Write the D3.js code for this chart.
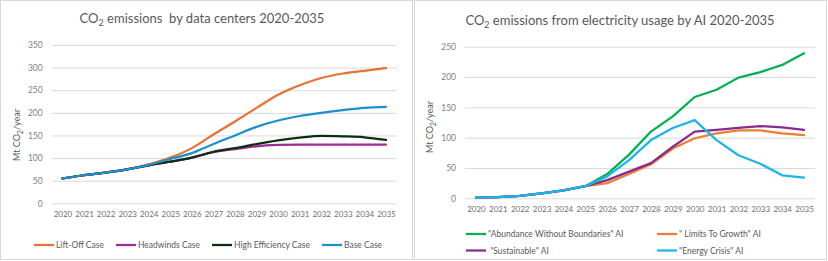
<!DOCTYPE html>
<html>
<head>
<meta charset="utf-8">
<script src="https://cdn.jsdelivr.net/npm/d3@7"></script>
<style>
  body { margin: 0; background: #fff; }
  text { font-family: Lato, "Open Sans", sans-serif; }
</style>
</head>
<body>
<svg id="chart" width="828" height="261"></svg>
<script>
// categories
const years = ["2020","2021","2022","2023","2024","2025","2026","2027","2028","2029","2030","2031","2032","2033","2034","2035"];

// left chart: data centers (Mt CO2/year)
const liftOff        = [55, 62, 68, 75, 86, 101, 122, 152, 181, 211, 240, 261, 277, 287, 293, 299];
const headwinds      = [55, 62, 68, 75, 84,  92, 101, 113, 120, 126, 129, 130, 130, 130, 130, 130];
const highEfficiency = [55, 62, 68, 75, 84,  92, 101, 114, 122, 131, 139, 145, 149, 148, 146, 140];
const baseCase       = [55, 62, 68, 75, 85,  98, 111, 131, 150, 169, 183, 193, 200, 206, 211, 213];
const leftTicks = [0, 50, 100, 150, 200, 250, 300, 350];

// right chart: AI electricity usage (Mt CO2/year)
const abundance    = [1, 2, 4, 8, 13, 20, 40, 72, 110, 135, 167, 179, 199, 208, 220, 239];
const limits       = [1, 2, 4, 8, 13, 20, 25, 40,  56,  82,  99, 107, 112, 112, 107, 104];
const sustainable  = [1, 2, 4, 8, 13, 20, 30, 44,  58,  85, 110, 113, 116, 119, 117, 113];
const energyCrisis = [1, 2, 4, 8, 13, 20, 36, 63,  96, 116, 129,  96,  71,  57,  38,  34];
const rightTicks = [0, 50, 100, 150, 200, 250];

const svg = d3.select("#chart");
svg.append("rect").attr("width", 828).attr("height", 261).attr("fill", "#fff");

// panel frames
svg.append("rect").attr("x", 0.5).attr("y", 0.5).attr("width", 412).attr("height", 259)
  .attr("fill", "none").attr("stroke", "#d9d9d9");
svg.append("rect").attr("x", 414.5).attr("y", 0.5).attr("width", 412).attr("height", 259)
  .attr("fill", "none").attr("stroke", "#d9d9d9");

function co2Text(sel, before, after, subSize) {
  sel.append("tspan").text(before);
  sel.append("tspan").attr("dy", 3).style("font-size", subSize + "px").text("2");
  sel.append("tspan").attr("dy", -3).text(after);
}

function drawPanel(p) {
  const g = svg.append("g");

  const x = d3.scalePoint().domain(years).range([p.left, p.right]).padding(0.5);
  const y = d3.scaleLinear().domain([0, p.yMax]).range([p.bottom, p.top]);

  // gridlines + y labels
  const yAxis = g.append("g")
    .attr("transform", `translate(${p.left},0)`)
    .call(d3.axisLeft(y).tickValues(p.ticks).tickSize(-(p.right - p.left)).tickPadding(9));
  yAxis.select(".domain").remove();
  yAxis.selectAll(".tick line").attr("stroke", "#d9d9d9").attr("stroke-width", 1);
  yAxis.selectAll(".tick text").attr("fill", "#7f7f7f").style("font-size", "8.5px");

  // x labels
  const xAxis = g.append("g")
    .attr("transform", `translate(0,${p.bottom})`)
    .call(d3.axisBottom(x).tickSize(0).tickPadding(8.5));
  xAxis.select(".domain").remove();
  xAxis.selectAll(".tick text").attr("fill", "#6f6f6f").style("font-size", "8px");

  // title
  const t = g.append("text")
    .attr("x", p.titleX).attr("y", p.titleY)
    .attr("text-anchor", "middle")
    .attr("fill", "#595959")
    .style("font-size", "13px")
    .style("white-space", "pre");
  co2Text(t, "CO", p.title, 9);

  // y title
  const yt = g.append("text")
    .attr("transform", `translate(${p.yTitleX},${p.yTitleY}) rotate(-90)`)
    .attr("text-anchor", "middle")
    .attr("fill", "#595959")
    .style("font-size", "9px");
  co2Text(yt, "Mt CO", "/year", 7);

  // lines
  const line = d3.line()
    .x((d, i) => x(years[i]))
    .y(d => y(d))
    .curve(p.curve);

  p.series.forEach(s => {
    g.append("path")
      .datum(s.values)
      .attr("fill", "none")
      .attr("stroke", s.color)
      .attr("stroke-width", 2.25)
      .attr("stroke-linejoin", "round")
      .attr("stroke-linecap", "round")
      .attr("d", line);
  });

  // legend
  p.series.forEach(s => {
    const lg = g.append("g").attr("transform", `translate(${s.lx},${s.ly})`);
    lg.append("line").attr("x1", 0).attr("x2", 20).attr("y1", 0).attr("y2", 0)
      .attr("stroke", s.color).attr("stroke-width", 2.25);
    lg.append("text").attr("x", 22).attr("y", 3.1)
      .attr("fill", "#595959").style("font-size", "8.5px").style("white-space", "pre")
      .text(s.name);
  });
}

drawPanel({
  left: 51.7, right: 396.7, top: 45, bottom: 203.3, yMax: 350, ticks: leftTicks,
  title: " emissions  by data centers 2020-2035", titleX: 202, titleY: 23,
  yTitleX: 20, yTitleY: 135,
  curve: d3.curveMonotoneX,
  series: [
    { name: "Lift-Off Case", values: liftOff, color: "#e97132", lx: 34, ly: 245 },
    { name: "Headwinds Case", values: headwinds, color: "#a02b93", lx: 116, ly: 245 },
    { name: "High Efficiency Case", values: highEfficiency, color: "#0c2e10", lx: 212, ly: 245 },
    { name: "Base Case", values: baseCase, color: "#1f8fcc", lx: 322, ly: 245 }
  ]
});

drawPanel({
  left: 465, right: 815, top: 46.7, bottom: 198.3, yMax: 250, ticks: rightTicks,
  title: " emissions from electricity usage by AI 2020-2035", titleX: 620, titleY: 25,
  yTitleX: 433, yTitleY: 127,
  curve: d3.curveLinear,
  series: [
    { name: "\"Abundance Without Boundaries\" AI", values: abundance, color: "#00b050", lx: 466, ly: 234 },
    { name: "\" Limits To Growth\" AI", values: limits, color: "#ed7d31", lx: 657, ly: 234 },
    { name: " \"Sustainable\" AI", values: sustainable, color: "#8a2a8e", lx: 466, ly: 250.5 },
    { name: "\"Energy Crisis\" AI", values: energyCrisis, color: "#1ab5ee", lx: 657, ly: 250.5 }
  ]
});
</script>
</body>
</html>
